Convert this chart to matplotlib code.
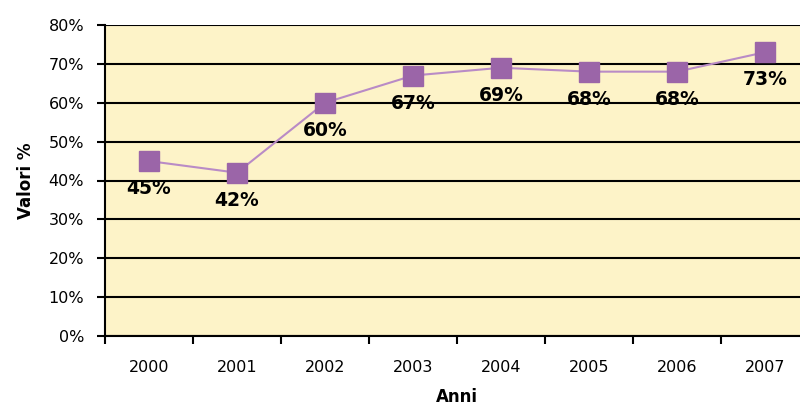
import matplotlib
matplotlib.use("Agg")
import matplotlib.pyplot as plt
from matplotlib.ticker import FixedLocator, NullFormatter

years = ["2000", "2001", "2002", "2003", "2004", "2005", "2006", "2007"]
values = [45, 42, 60, 67, 69, 68, 68, 73]
yticks = [0, 10, 20, 30, 40, 50, 60, 70, 80]

fig = plt.figure(figsize=(8.0, 4.09), dpi=100)
W, H = 800, 409
left, right, top, bottom = 105, 809, 25, 336
ax = fig.add_axes([left / W, 1 - bottom / H, (right - left) / W, (bottom - top) / H])
ax.set_facecolor("#FDF3C8")

x = list(range(len(years)))
ax.plot(x, values, color="#B98BC6", lw=1.5, zorder=3)
ax.plot(x, values, ls="none", marker="s", ms=14.5, color="#9B65A8", zorder=4)

for xi, v in zip(x, values):
    ax.annotate(f"{v}%", (xi, v), xytext=(0, -20), textcoords="offset points",
                ha="center", va="center", fontsize=13.5, fontweight="bold", color="black", zorder=5)

ax.set_xlim(-0.5, 7.5)
ax.set_ylim(0, 80)
ax.set_yticks(yticks)
ax.set_yticklabels([f"{t}%" for t in yticks], fontsize=11.5)
ax.yaxis.grid(True, color="black", lw=1.5)
ax.set_axisbelow(True)

ax.set_xticks(x)
ax.set_xticklabels(years, fontsize=11.5)
ax.tick_params(axis="x", which="major", length=0, pad=17)
ax.xaxis.set_minor_locator(FixedLocator([i + 0.5 for i in range(-1, 8)]))
ax.xaxis.set_minor_formatter(NullFormatter())
ax.tick_params(axis="x", which="minor", length=6, width=1.5, direction="out")
ax.tick_params(axis="y", length=6, width=1.5, direction="out", pad=9)

for s in ["top", "right"]:
    ax.spines[s].set_visible(False)
for s in ["left", "bottom"]:
    ax.spines[s].set_linewidth(1.5)
    ax.spines[s].set_color("black")

ax.set_ylabel("Valori %", fontsize=12, fontweight="bold", labelpad=10)
ax.set_xlabel("Anni", fontsize=12, fontweight="bold", labelpad=10)

fig.savefig("out.png", dpi=100)
